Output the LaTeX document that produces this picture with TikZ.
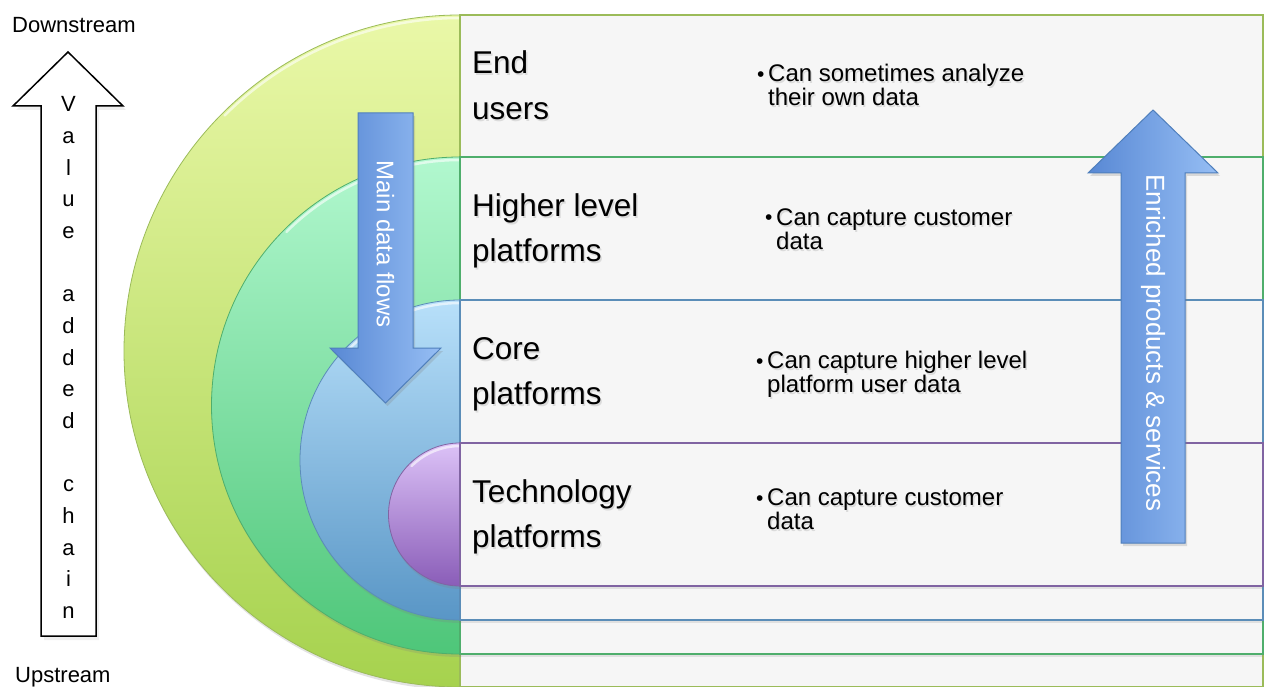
\documentclass[tikz,border=0pt]{standalone}
\usepackage{fontspec}
\setmainfont{Liberation Sans}
\usetikzlibrary{shadows}

\definecolor{panelgray}{HTML}{F6F6F6}
\definecolor{ygTop}{HTML}{EAF8A8}
\definecolor{ygBot}{HTML}{A6D24E}
\definecolor{ygLine}{HTML}{9BBB59}
\definecolor{gnTop}{HTML}{B2F8CF}
\definecolor{gnBot}{HTML}{4EC679}
\definecolor{gnLine}{HTML}{4FAE6C}
\definecolor{blTop}{HTML}{B8E0FA}
\definecolor{blBot}{HTML}{5996C6}
\definecolor{blLine}{HTML}{5B8DB8}
\definecolor{puTop}{HTML}{DCC2F7}
\definecolor{puBot}{HTML}{8A5DB8}
\definecolor{puLine}{HTML}{8064A2}
\definecolor{arrowL}{HTML}{5888D4}
\definecolor{arrowR}{HTML}{96BEF4}
\definecolor{arrowLine}{HTML}{4F7FBC}

% text with a soft grey shadow below right
\newcommand\shtext[1]{\makebox[0pt][l]{\kern1.4pt\raisebox{-2pt}{\color{black!14}#1}}#1}
% tight two-line note font
\newcommand\notefont{\fontsize{24}{24}\selectfont\lineskiplimit=-20pt\relax}

\begin{document}
\begin{tikzpicture}[x=1pt,y=-1pt,
  panel/.style={fill=panelgray, line width=1.2pt,
    drop shadow={opacity=0.18, shadow xshift=0pt, shadow yshift=-3pt}},
  disk/.style={line width=0.8pt,
    drop shadow={opacity=0.22, shadow xshift=1pt, shadow yshift=-3pt}},
  rim/.style={white, opacity=0.6, line width=2.5pt, line cap=round},
  head/.style={anchor=base west, inner sep=0pt, font=\fontsize{31.5}{36}\selectfont},
  note/.style={anchor=base west, inner sep=0pt, align=left, font=\notefont},
  dot/.style={anchor=base west, inner sep=0pt, font=\fontsize{21}{24}\selectfont},
  side/.style={anchor=base west, inner sep=0pt, font=\fontsize{22}{26}\selectfont},
  chainletter/.style={anchor=base, inner sep=0pt, font=\fontsize{22}{26}\selectfont},
  blockarrow/.style={draw=arrowLine, line width=1pt, left color=arrowL, right color=arrowR,
    drop shadow={opacity=0.25, shadow xshift=2pt, shadow yshift=-3pt}},
  vtext/.style={white, rotate=-90, inner sep=0pt},
  outlinearrow/.style={draw=black, fill=white, line width=1.5pt, line join=miter,
    drop shadow={opacity=0.12, shadow xshift=3pt, shadow yshift=-4pt}}
]
% canvas
\fill[white] (0,0) rectangle (1266,687);
\useasboundingbox (0,0) rectangle (1266,687);

% ---- layer 1: end users ----
\path[disk, top color=ygTop, bottom color=ygBot, draw=ygLine]
  (460,15) arc[start angle=90, end angle=270, radius=336pt] -- cycle;
\draw[rim] (460,18) arc[start angle=90, end angle=135, radius=333pt];
\draw[panel, draw=ygLine] (460,15) rectangle (1263,687);

% ---- layer 2: higher level platforms ----
\path[disk, top color=gnTop, bottom color=gnBot, draw=gnLine]
  (460,157) arc[start angle=90, end angle=270, radius=248.5pt] -- cycle;
\draw[rim] (460,160) arc[start angle=90, end angle=135, radius=245.5pt];
\draw[panel, draw=gnLine] (460,157) rectangle (1263,654);

% ---- layer 3: core platforms ----
\path[disk, top color=blTop, bottom color=blBot, draw=blLine]
  (460,300) arc[start angle=90, end angle=270, radius=160pt] -- cycle;
\draw[rim] (460,303) arc[start angle=90, end angle=135, radius=157pt];
\draw[panel, draw=blLine] (460,300) rectangle (1263,620);

% ---- layer 4: technology platforms ----
\path[disk, top color=puTop, bottom color=puBot, draw=puLine]
  (460,443) arc[start angle=90, end angle=270, radius=71.5pt] -- cycle;
\draw[rim] (460,446) arc[start angle=90, end angle=135, radius=68.5pt];
\draw[panel, draw=puLine] (460,443) rectangle (1263,586);

% ---- panel headings ----
\node[head] (h1a) at (472,74)  {\shtext{End}};
\node[head] (h1b) at (472,120) {\shtext{users}};
\node[head] (h2a) at (472,216) {\shtext{Higher level}};
\node[head] (h2b) at (472,261) {\shtext{platforms}};
\node[head] (h3a) at (472,359) {\shtext{Core}};
\node[head] (h3b) at (472,404) {\shtext{platforms}};
\node[head] (h4a) at (472,502) {\shtext{Technology}};
\node[head] (h4b) at (472,547) {\shtext{platforms}};

% ---- panel notes (a two-line node sits on its last baseline) ----
\node[dot]  (b1) at (757,82)  {•};
\node[note] (n1) at (768,106) {\shtext{Can sometimes analyze}\\ \shtext{their own data}};
\node[dot]  (b2) at (765,225) {•};
\node[note] (n2) at (776,249) {\shtext{Can capture customer}\\ \shtext{data}};
\node[dot]  (b3) at (756,368) {•};
\node[note] (n3) at (767,392) {\shtext{Can capture higher level}\\ \shtext{platform user data}};
\node[dot]  (b4) at (756,505) {•};
\node[note] (n4) at (767,529) {\shtext{Can capture customer}\\ \shtext{data}};

% ---- main data flows (down) ----
\path[blockarrow] (358,113) -- (413,113) -- (413,348) -- (441,348) -- (385.5,403)
  -- (330,348) -- (358,348) -- cycle;
\node[vtext, font=\fontsize{24}{28}\selectfont] (mdf) at (385.5,244) {Main data flows};

% ---- enriched products & services (up) ----
\path[blockarrow] (1153,110) -- (1218,173) -- (1185,173) -- (1185,543) -- (1121,543)
  -- (1121,173) -- (1088,173) -- cycle;
\node[vtext, font=\fontsize{26}{30}\selectfont] (eps) at (1153,343) {Enriched products \& services};

% ---- value added chain ----
\node[side] (down) at (12,33) {Downstream};
\node[side] (up)   at (15,682) {Upstream};
\path[outlinearrow] (68,52) -- (123,106) -- (96,106) -- (96,636) -- (41,636)
  -- (41,106) -- (13,106) -- cycle;
\foreach \i/\ch in {0/V,1/a,2/l,3/u,4/e,6/a,7/d,8/d,9/e,10/d,12/c,13/h,14/a,15/i,16/n}
  \node[chainletter] (vc\i) at (68.5,112+31.65*\i) {\ch};
\end{tikzpicture}
\end{document}
